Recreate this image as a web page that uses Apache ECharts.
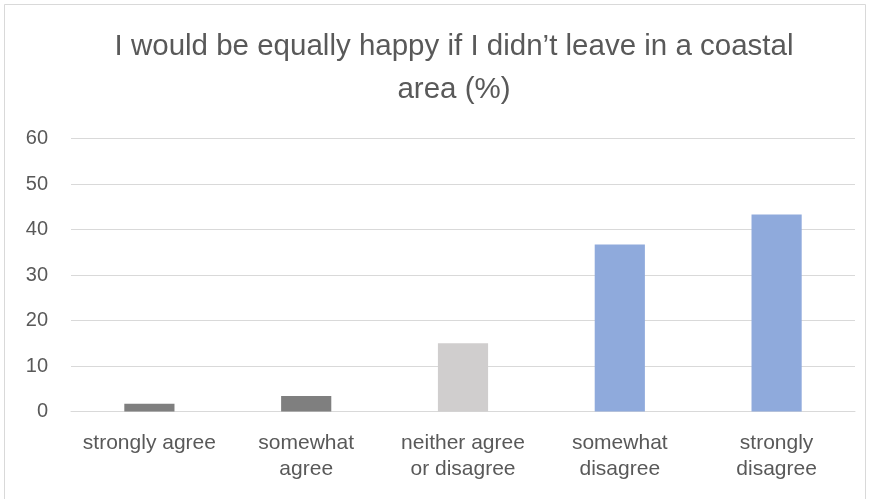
<!DOCTYPE html>
<html>
<head>
<meta charset="utf-8">
<script src="https://cdn.jsdelivr.net/npm/echarts@6/dist/echarts.min.js"></script>
<style>
  html, body { margin: 0; padding: 0; background: #ffffff; }
  #chart { width: 871px; height: 499px; }
</style>
</head>
<body>
<div id="chart"></div>
<script>
// Survey responses, share of respondents (%)
const categories = [
  'strongly agree',
  'somewhat\nagree',
  'neither agree\nor disagree',
  'somewhat\ndisagree',
  'strongly\ndisagree'
];
const shares = [1.7, 3.4, 15.0, 36.7, 43.3];
const yTicks = { min: 0, max: 60, step: 10 };
const barColors = ['#7f7f7f', '#7f7f7f', '#d0cece', '#8faadc', '#8faadc'];

const FONT = '"Liberation Sans", Arial, sans-serif';
const TEXT = '#595959';
const GRID = '#d9d9d9';

const chart = echarts.init(document.getElementById('chart'), null, { renderer: 'canvas' });

chart.setOption({
  animation: false,
  backgroundColor: '#ffffff',
  title: {
    text: 'I would be equally happy if I didn\u2019t leave in a coastal\narea (%)',
    left: 449,
    top: 20,
    textAlign: 'center',
    textStyle: {
      fontFamily: FONT,
      fontWeight: 'normal',
      fontSize: 29.5,
      lineHeight: 43,
      color: TEXT
    }
  },
  graphic: [{
    type: 'rect',
    shape: { x: 4.5, y: 4.5, width: 861, height: 510 },
    style: { fill: 'none', stroke: GRID, lineWidth: 1 },
    silent: true
  }],
  grid: { left: 71, right: 16, top: 138.5, bottom: 87.5, containLabel: false },
  xAxis: {
    type: 'category',
    data: categories,
    axisLine: { show: true, lineStyle: { color: GRID, width: 1 } },
    axisTick: { show: false },
    axisLabel: {
      interval: 0,
      margin: 19,
      fontFamily: FONT,
      fontSize: 21,
      lineHeight: 26,
      color: TEXT
    }
  },
  yAxis: {
    type: 'value',
    min: yTicks.min,
    max: yTicks.max,
    interval: yTicks.step,
    axisLine: { show: false },
    axisTick: { show: false },
    splitLine: { lineStyle: { color: GRID, width: 1 } },
    axisLabel: {
      margin: 23,
      fontFamily: FONT,
      fontSize: 20,
      color: TEXT
    }
  },
  series: [{
    type: 'bar',
    barWidth: '32%',
    data: shares.map((v, i) => ({ value: v, itemStyle: { color: barColors[i] } }))
  }]
});
</script>
</body>
</html>
